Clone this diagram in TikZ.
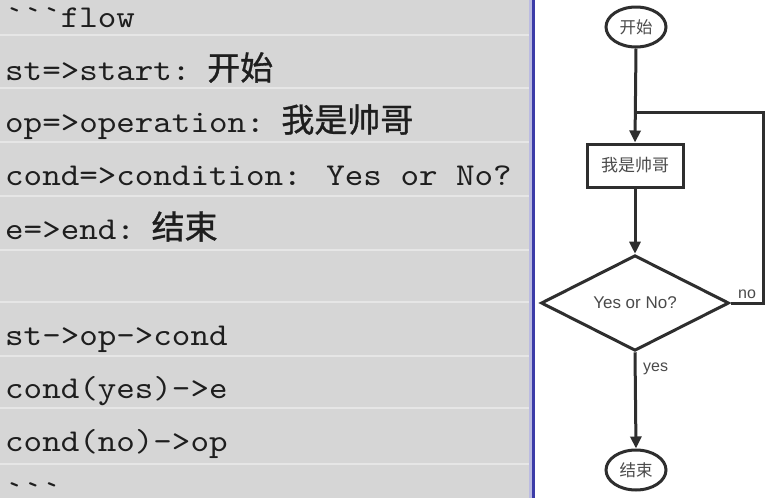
\documentclass[tikz,border=0pt]{standalone}
\usepackage{fontspec}
\setmainfont{Liberation Sans}
\newfontfamily\codefont{lmmono10-regular.otf}[FakeStretch=1.11]
\newfontfamily\cjk{Noto Sans CJK SC}
\newfontfamily\cjkcode{Noto Sans CJK SC}[FakeBold=1.0]
\usetikzlibrary{shapes.geometric,arrows.meta}
\definecolor{panelgray}{HTML}{D6D6D6}
\definecolor{sepgray}{HTML}{E6E6E6}
\definecolor{borderblue}{HTML}{3C3CA8}
\definecolor{flowline}{HTML}{2E2E2E}
\definecolor{flowtext}{HTML}{4A4A4A}
\definecolor{codetext}{HTML}{1E1E1E}
\tikzset{
  codeline/.style={anchor=base west, inner sep=0pt, text=codetext, font=\fontsize{31.8}{31.8}\selectfont\codefont},
  sepline/.style={draw=sepgray, line width=2pt},
  flowshape/.style={draw=flowline, line width=3pt, text=flowtext, inner sep=0pt},
  terminal/.style={flowshape, ellipse, minimum width=60pt, minimum height=40pt, font=\fontsize{16.5}{16.5}\selectfont\cjk},
  opbox/.style={flowshape, rectangle, minimum width=96pt, minimum height=43pt, font=\fontsize{17}{17}\selectfont\cjk},
  decision/.style={flowshape, diamond, minimum width=188pt, minimum height=90pt, font=\fontsize{17}{17}\selectfont},
  flowarrow/.style={draw=flowline, line width=3pt, -{Triangle[length=12pt,width=11pt]}},
  flowedge/.style={draw=flowline, line width=3pt},
  edgelabel/.style={text=flowtext, inner sep=0pt, anchor=base west, font=\fontsize{16}{16}\selectfont}
}
\newcommand{\cn}[1]{\hspace{-8pt}{\fontsize{33}{33}\selectfont\cjkcode #1}}
\begin{document}
\begin{tikzpicture}[x=1pt,y=-1pt]
\useasboundingbox (0,0) rectangle (769,498);
\fill[white] (0,0) rectangle (769,498);
% left code panel
\fill[panelgray] (0,0) rectangle (533,498);
\foreach \yy in {35,88,142,196,250,302,356,408,464} {
  \draw[sepline] (0,\yy) -- (531,\yy);
}
\fill[borderblue!35] (529,0) rectangle (532,498);
\fill[borderblue] (532,0) rectangle (535,498);
\begin{scope}
\clip (0,0) rectangle (531,498);
\node[codeline] (l1) at (5,27) {```flow};
\node[codeline] (l2) at (5,80) {st=>start: \cn{开始}};
\node[codeline] (l3) at (5,132) {op=>operation: \cn{我是帅哥}};
\node[codeline] (l4) at (5,185) {cond=>condition: Yes or No?};
\node[codeline] (l5) at (5,239) {e=>end: \cn{结束}};
\node[codeline] (l6) at (5,345) {st->op->cond};
\node[codeline] (l7) at (5,398) {cond(yes)->e};
\node[codeline] (l8) at (5,451) {cond(no)->op};
\node[codeline] (l9) at (5,502) {```};
\end{scope}
% flowchart
\node[terminal] (st) at (636,27) {开始};
\node[opbox] (op) at (635,165.5) {我是帅哥};
\node[decision] (cond) at (635,303) {Yes or No?};
\node[terminal] (e) at (636,470) {结束};
\coordinate (loopR) at (763,303);
\coordinate (loopT) at (763,112);
\coordinate (loopJ) at (635,112);
\draw[flowarrow] (st.south) -- (op.north);
\draw[flowarrow] (op.south) -- (cond.north);
\draw[flowarrow] (cond.south) -- (e.north);
\draw[flowedge, line join=miter] (cond.east) -- (loopR) -- (loopT) -- (loopJ);
\node[edgelabel] (yes) at (643,371) {yes};
\node[edgelabel] (no) at (738,298) {no};
\end{tikzpicture}
\end{document}
